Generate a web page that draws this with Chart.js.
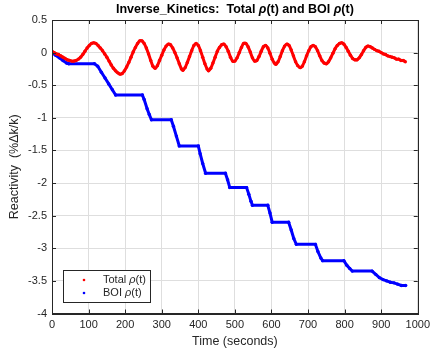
<!DOCTYPE html>
<html>
<head>
<meta charset="utf-8">
<script src="https://cdn.jsdelivr.net/npm/chart.js@4.4.1/dist/chart.umd.min.js"></script>
<style>
  html, body { margin: 0; padding: 0; background: #fff; }
</style>
</head>
<body>
<canvas id="chart" width="435" height="352"></canvas>
<script>
// Total rho(t)
const redTime = [
  0, 6, 12, 18, 24, 30, 36, 42, 48, 54, 60, 66, 72, 78, 84, 90, 96, 102, 108, 114,
  120, 126, 132, 138, 144, 150, 156, 162, 168, 174, 180, 186, 192, 198, 204, 210, 216, 222, 228, 234,
  240, 246, 252, 258, 264, 270, 276, 282, 288, 294, 300, 306, 312, 318, 324, 330, 336, 342, 348, 354,
  358, 364, 370, 376, 382, 388, 394, 400, 406, 412, 418, 424, 428, 434, 440, 446, 452, 458, 464, 470,
  476, 482, 488, 494, 500, 506, 512, 518, 524, 530, 536, 542, 548, 554, 560, 566, 572, 578, 584, 590,
  596, 602, 608, 612, 618, 624, 630, 636, 642, 648, 654, 660, 666, 672, 678, 684, 690, 696, 702, 708,
  714, 720, 726, 732, 738, 744, 750, 756, 762, 768, 774, 780, 786, 792, 798, 804, 810, 816, 822, 828,
  834, 840, 846, 852, 858, 864, 870, 876, 882, 888, 894, 900, 906, 912, 918, 924, 930, 936, 942, 948,
  954, 960, 966
];
const redRho = [
  0.02, 0.0, -0.02, -0.03, -0.05, -0.07, -0.09, -0.11, -0.12, -0.13, -0.13, -0.12, -0.10, -0.07, -0.03, 0.02, 0.07, 0.11, 0.14, 0.15,
  0.14, 0.11, 0.07, 0.03, -0.02, -0.07, -0.13, -0.19, -0.24, -0.28, -0.31, -0.33, -0.32, -0.28, -0.22, -0.15, -0.07, 0.01, 0.08, 0.14,
  0.18, 0.18, 0.14, 0.07, -0.02, -0.12, -0.21, -0.24, -0.20, -0.12, -0.04, 0.04, 0.10, 0.13, 0.12, 0.07, 0.0, -0.08, -0.17, -0.25,
  -0.27, -0.23, -0.15, -0.06, 0.03, 0.11, 0.14, 0.11, 0.03, -0.07, -0.17, -0.25, -0.28, -0.24, -0.16, -0.07, 0.02, 0.08, 0.12, 0.13,
  0.09, 0.02, -0.07, -0.13, -0.13, -0.08, 0.0, 0.08, 0.14, 0.14, 0.09, 0.01, -0.08, -0.13, -0.12, -0.06, 0.02, 0.09, 0.11, 0.07,
  -0.01, -0.10, -0.16, -0.18, -0.14, -0.06, 0.03, 0.10, 0.13, 0.11, 0.04, -0.05, -0.14, -0.20, -0.23, -0.21, -0.14, -0.05, 0.03, 0.09,
  0.11, 0.09, 0.03, -0.05, -0.12, -0.16, -0.17, -0.14, -0.08, -0.01, 0.06, 0.11, 0.14, 0.15, 0.13, 0.08, 0.02, -0.04, -0.09, -0.11,
  -0.11, -0.08, -0.03, 0.03, 0.08, 0.10, 0.09, 0.07, 0.05, 0.03, 0.02, 0.0, -0.02, -0.03, -0.05, -0.06, -0.07, -0.08, -0.10, -0.10,
  -0.12, -0.12, -0.14
];

// BOI rho(t)
const blueTime = [
  0, 10, 20, 30, 40, 46, 116, 125, 135, 145, 155, 165, 174, 247, 252, 260, 266, 272, 326, 332,
  340, 348, 400, 405, 412, 420, 474, 480, 486, 532, 538, 544, 548, 590, 596, 602, 647, 654, 661, 668,
  720, 727, 735, 740, 798, 806, 814, 821, 875, 885, 895, 905, 915, 925, 935, 945, 955, 967
];
const blueRho = [
  0.0, -0.04, -0.08, -0.12, -0.16, -0.17, -0.17, -0.21, -0.30, -0.39, -0.48, -0.57, -0.65, -0.65, -0.72, -0.86, -0.95, -1.03, -1.03, -1.13,
  -1.28, -1.43, -1.43, -1.55, -1.70, -1.85, -1.85, -1.95, -2.07, -2.07, -2.17, -2.28, -2.34, -2.34, -2.46, -2.60, -2.60, -2.72, -2.85, -2.94,
  -2.94, -3.05, -3.15, -3.19, -3.19, -3.26, -3.31, -3.35, -3.35, -3.40, -3.45, -3.48, -3.50, -3.52, -3.53, -3.55, -3.57, -3.57
];

const xTicks = [0, 100, 200, 300, 400, 500, 600, 700, 800, 900, 1000];
const yTicks = [0.5, 0, -0.5, -1, -1.5, -2, -2.5, -3, -3.5, -4];

const axisColor = "#262626";
const gridColor = "#dedede";
const fontFamily = "'Liberation Sans', Arial, Helvetica, sans-serif";

const toPoints = (xs, ys) => xs.map((x, i) => ({ x, y: ys[i] }));

// draws pieces of text in a row, rho pieces in italic
const drawRuns = (ctx, runs, x, y, align) => {
  const widths = runs.map((r) => {
    ctx.font = r.font;
    return ctx.measureText(r.text).width;
  });
  const total = widths.reduce((a, b) => a + b, 0);
  let cx = align === "center" ? x - total / 2 : x;
  ctx.textBaseline = "middle";
  ctx.textAlign = "left";
  runs.forEach((r, i) => {
    ctx.font = r.font;
    ctx.fillText(r.text, cx, y);
    cx += widths[i];
  });
};

const framePlugin = {
  id: "frame",
  afterDraw(chart) {
    const { ctx, chartArea: a, scales } = chart;
    const tick = 4;
    ctx.save();
    ctx.strokeStyle = axisColor;
    ctx.lineWidth = 1;
    ctx.beginPath();
    xTicks.forEach((v) => {
      const px = Math.round(scales.x.getPixelForValue(v)) + 0.5;
      ctx.moveTo(px, a.bottom);
      ctx.lineTo(px, a.bottom - tick);
      ctx.moveTo(px, a.top);
      ctx.lineTo(px, a.top + tick);
    });
    yTicks.forEach((v) => {
      const py = Math.round(scales.y.getPixelForValue(v)) + 0.5;
      ctx.moveTo(a.left, py);
      ctx.lineTo(a.left + tick, py);
      ctx.moveTo(a.right, py);
      ctx.lineTo(a.right - tick, py);
    });
    ctx.stroke();
    ctx.strokeRect(Math.round(a.left) + 0.5, Math.round(a.top) + 0.5, Math.round(a.right - a.left), Math.round(a.bottom - a.top));

    // title
    ctx.fillStyle = "#000";
    const b = "bold 12.5px " + fontFamily;
    const bi = "italic bold 12.5px " + fontFamily;
    drawRuns(ctx, [
      { text: "Inverse_Kinetics:  Total ", font: b },
      { text: "\u03C1", font: bi },
      { text: "(t) and BOI ", font: b },
      { text: "\u03C1", font: bi },
      { text: "(t)", font: b },
    ], (a.left + a.right) / 2, 10, "center");

    // legend
    const lx = 63, ly = 270, lw = 87, lh = 32;
    ctx.fillStyle = "#fff";
    ctx.fillRect(lx, ly, lw, lh);
    ctx.strokeStyle = axisColor;
    ctx.strokeRect(lx + 0.5, ly + 0.5, lw, lh);
    const entries = [
      { label: "Total ", color: "#ff0000", y: ly + 10 },
      { label: "BOI ", color: "#0000ff", y: ly + 23 },
    ];
    const n = "11px " + fontFamily;
    const ni = "italic 11px " + fontFamily;
    entries.forEach((e) => {
      ctx.fillStyle = e.color;
      ctx.beginPath();
      ctx.arc(84, e.y, 1.3, 0, Math.PI * 2);
      ctx.fill();
      ctx.fillStyle = axisColor;
      drawRuns(ctx, [
        { text: e.label, font: n },
        { text: "\u03C1", font: ni },
        { text: "(t)", font: n },
      ], 103, e.y, "left");
    });
    ctx.restore();
  },
};

new Chart(document.getElementById("chart"), {
  type: "scatter",
  data: {
    datasets: [
      {
        label: "Total rho(t)",
        data: toPoints(redTime, redRho),
        showLine: true,
        borderColor: "#ff0000",
        backgroundColor: "#ff0000",
        borderWidth: 3,
        tension: 0.3,
        pointRadius: 1.7,
        pointBorderWidth: 0,
      },
      {
        label: "BOI rho(t)",
        data: toPoints(blueTime, blueRho),
        showLine: true,
        borderColor: "#0000ff",
        backgroundColor: "#0000ff",
        borderWidth: 3,
        tension: 0,
        pointRadius: 1.7,
        pointBorderWidth: 0,
      },
    ],
  },
  options: {
    responsive: false,
    animation: false,
    layout: { padding: { top: 20, right: 11, left: 0, bottom: 0 } },
    plugins: {
      legend: { display: false },
      title: { display: false },
      tooltip: { enabled: false },
    },
    scales: {
      x: {
        type: "linear",
        min: 0,
        max: 1000,
        afterBuildTicks: (s) => { s.ticks = xTicks.map((v) => ({ value: v })); },
        afterFit: (s) => { s.height = 38.5; },
        grid: { color: gridColor, drawTicks: false },
        border: { color: axisColor },
        ticks: {
          color: axisColor,
          padding: 5,
          maxRotation: 0,
          autoSkip: false,
          font: { family: fontFamily, size: 11 },
          callback: (v) => String(v),
        },
        title: {
          display: true,
          text: "Time (seconds)",
          color: axisColor,
          padding: { top: 0, bottom: 3 },
          font: { family: fontFamily, size: 12.5 },
        },
      },
      y: {
        type: "linear",
        min: -4,
        max: 0.5,
        afterBuildTicks: (s) => { s.ticks = yTicks.map((v) => ({ value: v })); },
        afterFit: (s) => { s.width = 52; },
        grid: { color: gridColor, drawTicks: false },
        border: { color: axisColor },
        ticks: {
          color: axisColor,
          padding: 5,
          autoSkip: false,
          font: { family: fontFamily, size: 11 },
          callback: (v) => String(v),
        },
        title: {
          display: true,
          text: "Reactivity  (%\u0394k/k)",
          color: axisColor,
          padding: { top: 7, bottom: 0 },
          font: { family: fontFamily, size: 12.5 },
        },
      },
    },
  },
  plugins: [framePlugin],
});
</script>
</body>
</html>
